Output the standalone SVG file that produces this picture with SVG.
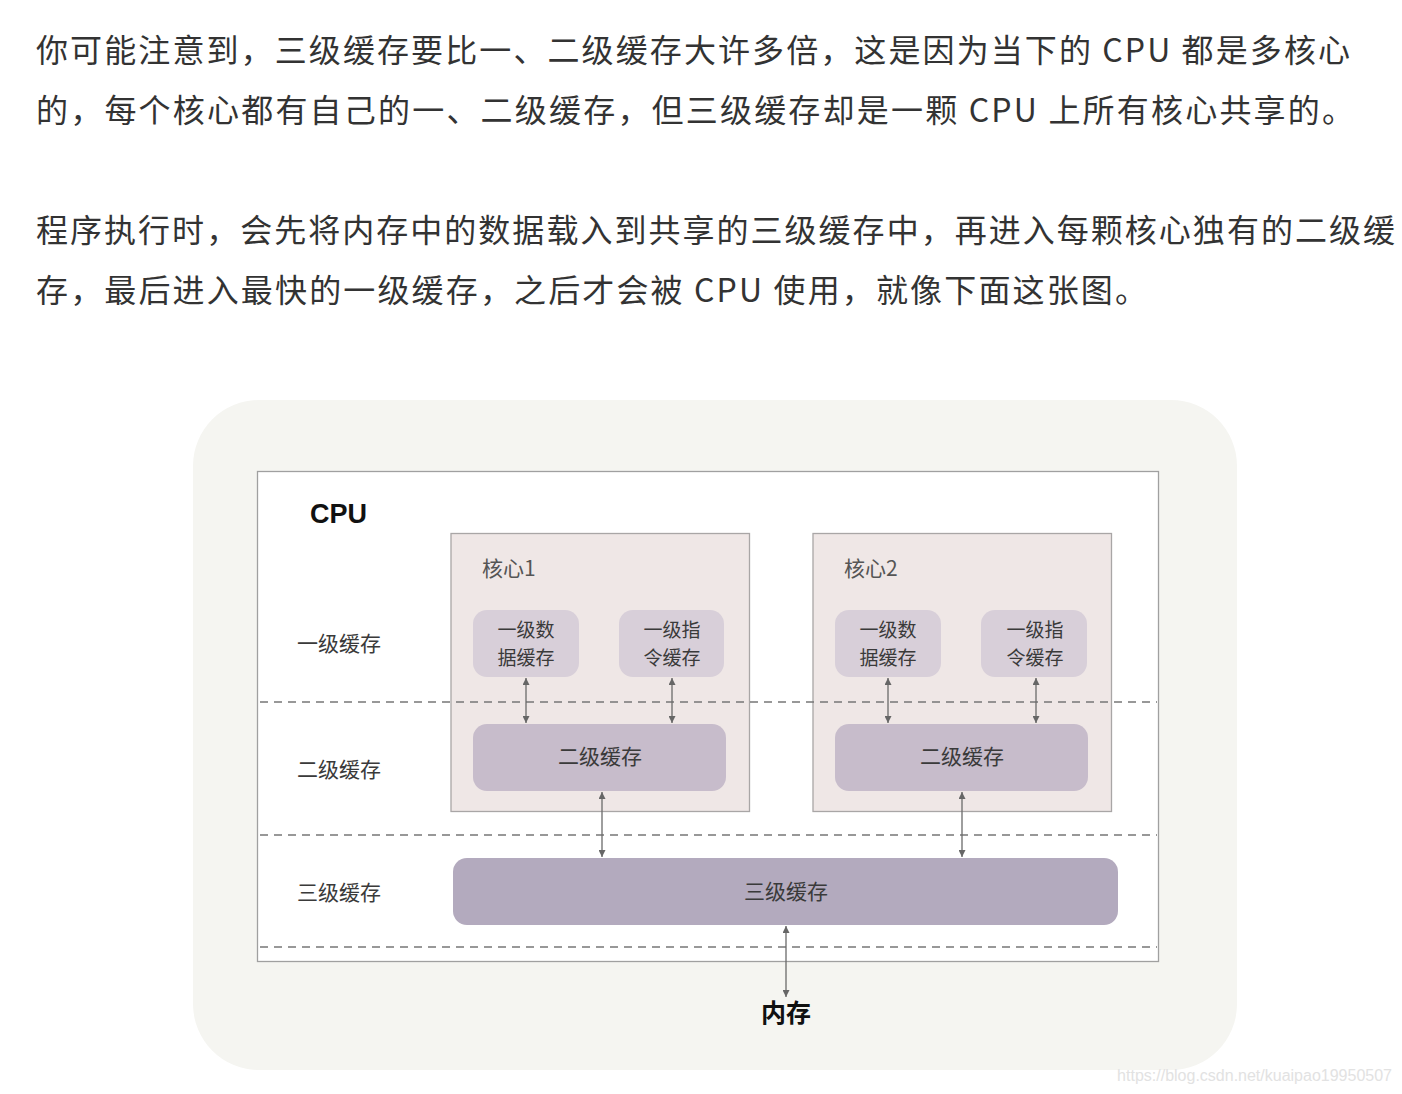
<svg xmlns="http://www.w3.org/2000/svg" width="1402" height="1094" viewBox="0 0 1402 1094">
<style>
.para{font-family:"Noto Sans CJK SC","Liberation Sans",sans-serif;font-size:32px;fill:#333}
.lbl{font-family:"Noto Sans CJK SC","Liberation Sans",sans-serif;font-size:21px;fill:#3a3a3a;text-anchor:middle;dominant-baseline:central}
.two{font-size:19px}
.core{fill:#efe7e6;stroke:#a9a6a6;stroke-width:1.3}
.l1{fill:#d8cfd9}
.l2{fill:#c7bccb}
.l3{fill:#b3aabe}
.dash{stroke:#777;stroke-width:1.5;stroke-dasharray:8 6;fill:none}
.conn{stroke:#6a6a6a;stroke-width:1.3;fill:none;marker-start:url(#ah);marker-end:url(#ah)}
</style>
<defs>
<marker id="ah" viewBox="0 0 10 10" refX="10" refY="5" markerWidth="7" markerHeight="7" markerUnits="userSpaceOnUse" orient="auto-start-reverse">
<path d="M0,0 L10,5 L0,10 z" fill="#666"/>
</marker>
</defs>
<rect width="1402" height="1094" fill="#ffffff"/>
<g id="paragraphs">
<text class="para" x="36" y="62" textLength="1314" lengthAdjust="spacing">你可能注意到，三级缓存要比一、二级缓存大许多倍，这是因为当下的 CPU 都是多核心</text>
<text class="para" x="36" y="122" textLength="1318" lengthAdjust="spacing">的，每个核心都有自己的一、二级缓存，但三级缓存却是一颗 CPU 上所有核心共享的。</text>
<text class="para" x="36" y="242" textLength="1359" lengthAdjust="spacing">程序执行时，会先将内存中的数据载入到共享的三级缓存中，再进入每颗核心独有的二级缓</text>
<text class="para" x="36" y="302" textLength="1111" lengthAdjust="spacing">存，最后进入最快的一级缓存，之后才会被 CPU 使用，就像下面这张图。</text>
</g>
<rect x="193" y="400" width="1044" height="670" rx="66" fill="#f5f5f1"/>
<g id="cpu">
<rect x="257.5" y="471.5" width="901" height="490" fill="#ffffff" stroke="#a0a0a0" stroke-width="1.3"/>
<text x="310" y="523" font-family="Liberation Sans,Arial,sans-serif" font-weight="bold" font-size="27" fill="#111">CPU</text>
</g>
<g id="row-labels">
<text class="lbl" x="339" y="642">一级缓存</text>
<text class="lbl" x="339" y="768">二级缓存</text>
<text class="lbl" x="339" y="891">三级缓存</text>
</g>
<g id="core1">
<rect class="core" x="451" y="533.5" width="298.5" height="278"/>
<text class="lbl" x="482" y="567" style="text-anchor:start;fill:#555">核心1</text>
</g>
<g id="core2">
<rect class="core" x="813" y="533.5" width="298.5" height="278"/>
<text class="lbl" x="844" y="567" style="text-anchor:start;fill:#555">核心2</text>
</g>
<g id="dashes">
<line class="dash" x1="260" y1="702" x2="1157" y2="702"/>
<line class="dash" x1="260" y1="835" x2="1157" y2="835"/>
<line class="dash" x1="260" y1="947" x2="1157" y2="947"/>
</g>
<g id="c1-l1d">
<rect class="l1" x="473" y="610" width="106" height="67" rx="14"/>
<text class="lbl two" x="526" y="628">一级数<tspan x="526" dy="28">据缓存</tspan></text>
</g>
<g id="c1-l1i">
<rect class="l1" x="619" y="610" width="105" height="67" rx="14"/>
<text class="lbl two" x="672" y="628">一级指<tspan x="672" dy="28">令缓存</tspan></text>
</g>
<g id="c2-l1d">
<rect class="l1" x="835" y="610" width="106" height="67" rx="14"/>
<text class="lbl two" x="888" y="628">一级数<tspan x="888" dy="28">据缓存</tspan></text>
</g>
<g id="c2-l1i">
<rect class="l1" x="981" y="610" width="106" height="67" rx="14"/>
<text class="lbl two" x="1035" y="628">一级指<tspan x="1035" dy="28">令缓存</tspan></text>
</g>
<g id="c1-l2">
<rect class="l2" x="473" y="724" width="253" height="67" rx="14"/>
<text class="lbl" x="600" y="755">二级缓存</text>
</g>
<g id="c2-l2">
<rect class="l2" x="835" y="724" width="253" height="67" rx="14"/>
<text class="lbl" x="962" y="755">二级缓存</text>
</g>
<g id="l3">
<rect class="l3" x="453" y="858" width="665" height="67" rx="14"/>
<text class="lbl" x="786" y="890">三级缓存</text>
</g>
<g id="memory">
<text x="786" y="1011" font-family="Noto Sans CJK SC,sans-serif" font-weight="bold" font-size="25" fill="#111" text-anchor="middle" dominant-baseline="central">内存</text>
</g>
<g id="connectors">
<line class="conn" x1="526" y1="678" x2="526" y2="723"/>
<line class="conn" x1="672" y1="678" x2="672" y2="723"/>
<line class="conn" x1="888" y1="678" x2="888" y2="723"/>
<line class="conn" x1="1036" y1="678" x2="1036" y2="723"/>
<line class="conn" x1="602" y1="792" x2="602" y2="857"/>
<line class="conn" x1="962" y1="792" x2="962" y2="857"/>
<line class="conn" x1="786" y1="926" x2="786" y2="997"/>
</g>
<text x="1392" y="1081" font-family="Liberation Sans,Arial,sans-serif" font-size="16" fill="#e2e2e2" text-anchor="end">https://blog.csdn.net/kuaipao19950507</text>
</svg>
